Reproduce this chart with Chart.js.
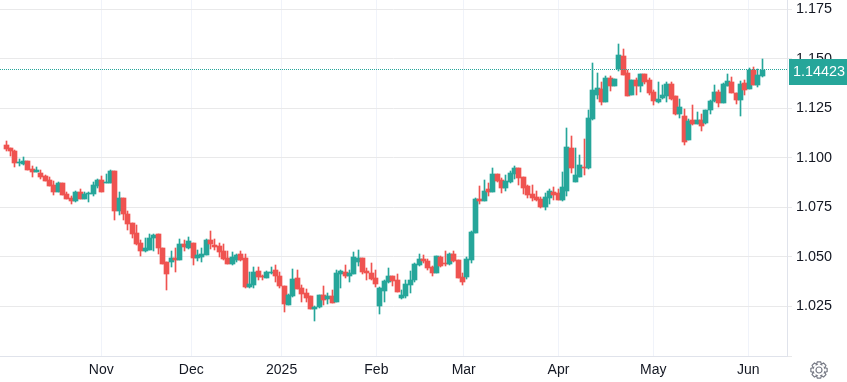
<!DOCTYPE html>
<html>
<head>
<meta charset="utf-8">
<title>Candles</title>
<script src="https://cdn.jsdelivr.net/npm/chart.js@4"></script>
<style>
  html, body { margin: 0; padding: 0; background: #fff; }
  canvas { display: block; }
</style>
</head>
<body>
<canvas id="chart" width="847" height="382"></canvas>
<script>
// daily candles, left to right
var opens = [1.1067,1.1052,1.1037,1.0973,1.0971,1.0982,1.0946,1.0931,1.0926,1.0911,1.0886,1.0861,1.0830,1.0871,1.0820,1.0800,1.0780,1.0830,1.0795,1.0817,1.0820,1.0856,1.0886,1.0871,1.0871,1.0936,1.0730,1.0800,1.0719,1.0669,1.0619,1.0568,1.0528,1.0533,1.0595,1.0614,1.0546,1.0476,1.0476,1.0496,1.0486,1.0567,1.0546,1.0572,1.0496,1.0501,1.0511,1.0587,1.0562,1.0556,1.0531,1.0496,1.0466,1.0486,1.0516,1.0496,1.0350,1.0360,1.0430,1.0405,1.0395,1.0419,1.0436,1.0405,1.0355,1.0259,1.0304,1.0395,1.0345,1.0320,1.0304,1.0239,1.0249,1.0310,1.0289,1.0304,1.0274,1.0415,1.0425,1.0405,1.0415,1.0476,1.0496,1.0430,1.0420,1.0395,1.0254,1.0330,1.0375,1.0405,1.0385,1.0294,1.0304,1.0360,1.0385,1.0461,1.0491,1.0481,1.0451,1.0420,1.0501,1.0471,1.0466,1.0516,1.0486,1.0400,1.0400,1.0486,1.0622,1.0792,1.0783,1.0844,1.0829,1.0919,1.0889,1.0849,1.0879,1.0921,1.0950,1.0904,1.0859,1.0819,1.0803,1.0793,1.0753,1.0798,1.0829,1.0824,1.0788,1.0834,1.1050,1.0879,1.0904,1.0955,1.0950,1.1197,1.1318,1.1348,1.1282,1.1403,1.1363,1.1449,1.1514,1.1428,1.1318,1.1393,1.1363,1.1423,1.1393,1.1333,1.1282,1.1302,1.1312,1.1373,1.1312,1.1222,1.1212,1.1091,1.1192,1.1171,1.1192,1.1176,1.1242,1.1287,1.1333,1.1277,1.1363,1.1383,1.1328,1.1292,1.1378,1.1348,1.1444,1.1368,1.1413];
var highs = [1.1087,1.1052,1.1042,1.0992,1.1002,1.0982,1.0961,1.0956,1.0941,1.0916,1.0906,1.0882,1.0876,1.0871,1.0830,1.0810,1.0835,1.0845,1.0830,1.0830,1.0876,1.0891,1.0911,1.0921,1.0941,1.0936,1.0830,1.0800,1.0730,1.0669,1.0659,1.0588,1.0598,1.0614,1.0614,1.0614,1.0546,1.0476,1.0531,1.0546,1.0592,1.0587,1.0602,1.0572,1.0536,1.0546,1.0592,1.0632,1.0592,1.0572,1.0567,1.0531,1.0526,1.0516,1.0531,1.0516,1.0425,1.0451,1.0451,1.0410,1.0430,1.0451,1.0461,1.0425,1.0355,1.0315,1.0441,1.0436,1.0360,1.0340,1.0304,1.0254,1.0310,1.0355,1.0320,1.0335,1.0436,1.0436,1.0461,1.0436,1.0526,1.0536,1.0496,1.0446,1.0471,1.0436,1.0350,1.0385,1.0446,1.0405,1.0415,1.0335,1.0385,1.0430,1.0469,1.0516,1.0511,1.0491,1.0456,1.0506,1.0506,1.0531,1.0521,1.0531,1.0486,1.0420,1.0501,1.0632,1.0797,1.0859,1.0889,1.0874,1.0950,1.0919,1.0899,1.0914,1.0934,1.0960,1.0950,1.0904,1.0864,1.0864,1.0834,1.0803,1.0824,1.0844,1.0854,1.0844,1.0929,1.1151,1.1111,1.1050,1.1015,1.1096,1.1242,1.1479,1.1428,1.1383,1.1413,1.1413,1.1398,1.1575,1.1549,1.1444,1.1393,1.1403,1.1423,1.1423,1.1403,1.1343,1.1383,1.1368,1.1383,1.1383,1.1312,1.1297,1.1247,1.1197,1.1267,1.1232,1.1222,1.1242,1.1292,1.1368,1.1343,1.1378,1.1423,1.1408,1.1328,1.1388,1.1393,1.1454,1.1459,1.1449,1.1499];
var lows = [1.1037,1.1012,1.0956,1.0958,1.0966,1.0941,1.0906,1.0931,1.0891,1.0881,1.0856,1.0815,1.0830,1.0815,1.0795,1.0765,1.0775,1.0795,1.0795,1.0775,1.0810,1.0850,1.0830,1.0871,1.0871,1.0684,1.0714,1.0689,1.0634,1.0598,1.0558,1.0503,1.0523,1.0533,1.0528,1.0513,1.0466,1.0335,1.0451,1.0425,1.0486,1.0531,1.0541,1.0461,1.0481,1.0476,1.0511,1.0541,1.0536,1.0501,1.0486,1.0466,1.0461,1.0476,1.0481,1.0345,1.0345,1.0345,1.0385,1.0385,1.0395,1.0415,1.0375,1.0345,1.0224,1.0259,1.0299,1.0340,1.0274,1.0274,1.0239,1.0178,1.0244,1.0259,1.0264,1.0269,1.0274,1.0345,1.0395,1.0375,1.0415,1.0452,1.0415,1.0385,1.0385,1.0350,1.0214,1.0274,1.0370,1.0355,1.0325,1.0289,1.0294,1.0320,1.0375,1.0456,1.0471,1.0436,1.0405,1.0420,1.0451,1.0456,1.0461,1.0476,1.0395,1.0360,1.0390,1.0471,1.0622,1.0768,1.0783,1.0808,1.0829,1.0879,1.0824,1.0834,1.0874,1.0894,1.0864,1.0819,1.0798,1.0783,1.0783,1.0748,1.0738,1.0768,1.0788,1.0788,1.0783,1.0808,1.0924,1.0879,1.0904,1.0914,1.0945,1.1192,1.1297,1.1267,1.1282,1.1338,1.1363,1.1438,1.1418,1.1312,1.1318,1.1318,1.1333,1.1373,1.1318,1.1267,1.1277,1.1297,1.1282,1.1292,1.1217,1.1202,1.1066,1.1091,1.1166,1.1171,1.1136,1.1171,1.1222,1.1282,1.1257,1.1277,1.1363,1.1328,1.1272,1.1212,1.1318,1.1348,1.1368,1.1358,1.1408];
var closes = [1.1047,1.1034,1.0976,1.0978,1.0982,1.0941,1.0931,1.0941,1.0906,1.0881,1.0856,1.0830,1.0871,1.0815,1.0795,1.0780,1.0830,1.0795,1.0820,1.0825,1.0861,1.0886,1.0830,1.0876,1.0936,1.0730,1.0800,1.0719,1.0664,1.0614,1.0563,1.0528,1.0543,1.0598,1.0609,1.0543,1.0466,1.0415,1.0496,1.0486,1.0567,1.0551,1.0582,1.0496,1.0511,1.0516,1.0587,1.0567,1.0551,1.0526,1.0491,1.0466,1.0501,1.0511,1.0486,1.0350,1.0365,1.0425,1.0400,1.0400,1.0425,1.0425,1.0405,1.0355,1.0264,1.0310,1.0390,1.0340,1.0315,1.0294,1.0239,1.0249,1.0310,1.0284,1.0304,1.0269,1.0420,1.0430,1.0405,1.0420,1.0501,1.0496,1.0425,1.0420,1.0390,1.0365,1.0345,1.0380,1.0405,1.0380,1.0325,1.0310,1.0365,1.0385,1.0466,1.0491,1.0481,1.0446,1.0420,1.0506,1.0456,1.0466,1.0516,1.0481,1.0395,1.0375,1.0491,1.0627,1.0792,1.0783,1.0834,1.0829,1.0919,1.0884,1.0849,1.0884,1.0924,1.0950,1.0899,1.0849,1.0814,1.0798,1.0788,1.0753,1.0803,1.0834,1.0814,1.0788,1.0854,1.1055,1.0950,1.0914,1.0965,1.0950,1.1202,1.1343,1.1353,1.1282,1.1403,1.1363,1.1398,1.1519,1.1418,1.1312,1.1393,1.1363,1.1423,1.1383,1.1328,1.1287,1.1297,1.1318,1.1373,1.1297,1.1222,1.1257,1.1081,1.1186,1.1171,1.1192,1.1161,1.1242,1.1287,1.1333,1.1277,1.1373,1.1388,1.1328,1.1292,1.1373,1.1343,1.1444,1.1368,1.1418,1.14423];

// x axis, counted in trading days
var month_labels = ["Nov", "Dec", "2025", "Feb", "Mar", "Apr", "May", "Jun"];
var month_ticks = [23, 43.7, 64.5, 86.3, 106.4, 128.2, 150, 171.9];
var price_ticks = [1.000, 1.025, 1.050, 1.075, 1.100, 1.125, 1.150, 1.175];

var UP = "#26a69a";
var DOWN = "#ef5350";
var AXIS = "#e0e3eb";
var TEXT = "#131722";

var last_price = closes[closes.length - 1];

var wick_data = [];
var body_data = [];
var colors = [];
for (var i = 0; i < opens.length; i++) {
  wick_data.push({ x: i + 1, y: [lows[i], highs[i]] });
  body_data.push({ x: i + 1, y: [opens[i], closes[i]] });
  colors.push(closes[i] >= opens[i] ? UP : DOWN);
}

// snap the bars to whole pixels so they stay crisp
var snapBars = {
  id: "snapBars",
  afterDatasetsUpdate: function (chart) {
    chart.data.datasets.forEach(function (ds, idx) {
      chart.getDatasetMeta(idx).data.forEach(function (el) {
        el.x = Math.round(el.x) + 0.5;
        el.y = Math.round(el.y);
        el.base = Math.round(el.base);
        if (el.y === el.base) el.base = el.y + 1;
      });
    });
  },
};

function drawGear(ctx, cx, cy) {
  ctx.save();
  ctx.translate(cx, cy);
  ctx.strokeStyle = "#787b86";
  ctx.lineWidth = 1.2;
  ctx.beginPath();
  for (var t = 0; t < 8; t++) {
    var a = (t * Math.PI) / 4;
    var w = 0.2;
    ctx.lineTo(6 * Math.cos(a - 2.2 * w), 6 * Math.sin(a - 2.2 * w));
    ctx.lineTo(8.3 * Math.cos(a - w), 8.3 * Math.sin(a - w));
    ctx.lineTo(8.3 * Math.cos(a + w), 8.3 * Math.sin(a + w));
    ctx.lineTo(6 * Math.cos(a + 2.2 * w), 6 * Math.sin(a + 2.2 * w));
  }
  ctx.closePath();
  ctx.stroke();
  ctx.beginPath();
  ctx.arc(0, 0, 3, 0, Math.PI * 2);
  ctx.stroke();
  ctx.restore();
}

// dotted last price line, price tag and the settings icon
var priceLine = {
  id: "priceLine",
  afterDraw: function (chart) {
    var ctx = chart.ctx;
    var area = chart.chartArea;
    var y = Math.floor(chart.scales.y.getPixelForValue(last_price));
    ctx.save();
    ctx.strokeStyle = UP;
    ctx.lineWidth = 1;
    ctx.setLineDash([1, 1]);
    ctx.beginPath();
    ctx.moveTo(area.left, y - 0.5);
    ctx.lineTo(area.right, y - 0.5);
    ctx.stroke();
    ctx.setLineDash([]);
    ctx.fillStyle = UP;
    ctx.fillRect(789, y - 11, 58, 26);
    ctx.fillStyle = "#fff";
    ctx.font = "14.4px 'Liberation Sans', Arial, sans-serif";
    ctx.textBaseline = "middle";
    ctx.textAlign = "left";
    ctx.fillText(last_price.toFixed(5), 793, y + 2.5);
    ctx.restore();
    drawGear(ctx, 819, 370);
  },
};

var chartArea = document.getElementById("chart").getContext("2d");

var myChart = new Chart(chartArea, {
  type: "bar",
  data: {
    datasets: [
      { label: "wick", data: wick_data, backgroundColor: colors, barThickness: 1, grouped: false, borderWidth: 0, order: 2 },
      { label: "body", data: body_data, backgroundColor: colors, barThickness: 5, grouped: false, borderWidth: 0, order: 1 },
    ],
  },
  plugins: [snapBars, priceLine],
  options: {
    responsive: false,
    animation: false,
    layout: { padding: 0 },
    plugins: {
      legend: { display: false },
      tooltip: { enabled: false },
    },
    scales: {
      x: {
        type: "linear",
        offset: false,
        min: -0.3,
        max: 180.79,
        grid: { offset: false, color: "#f0f3fa", drawTicks: false },
        border: { color: AXIS },
        afterBuildTicks: function (scale) {
          scale.ticks = month_ticks.map(function (v) { return { value: v }; });
        },
        afterFit: function (scale) {
          scale.height = 26;
          scale.paddingLeft = 0;
          scale.paddingRight = 0;
        },
        ticks: {
          color: TEXT,
          font: { family: "'Liberation Sans', Arial, sans-serif", size: 14 },
          padding: 6,
          maxRotation: 0,
          autoSkip: false,
          callback: function (value) {
            return month_labels[month_ticks.indexOf(value)];
          },
        },
      },
      y: {
        position: "right",
        min: 1.0,
        max: 1.1797,
        grid: { color: "#e9e9ea", tickColor: "#e9e9ea", tickLength: 5 },
        border: { color: AXIS },
        afterBuildTicks: function (scale) {
          scale.ticks = price_ticks.map(function (v) { return { value: v }; });
        },
        afterFit: function (scale) {
          scale.width = 60;
          scale.paddingTop = 0;
          scale.paddingBottom = 0;
        },
        ticks: {
          color: TEXT,
          font: { family: "'Liberation Sans', Arial, sans-serif", size: 14.4 },
          padding: 4,
          callback: function (value) {
            return value === 1.0 ? "" : value.toFixed(3);
          },
        },
      },
    },
  },
});
</script>
</body>
</html>
